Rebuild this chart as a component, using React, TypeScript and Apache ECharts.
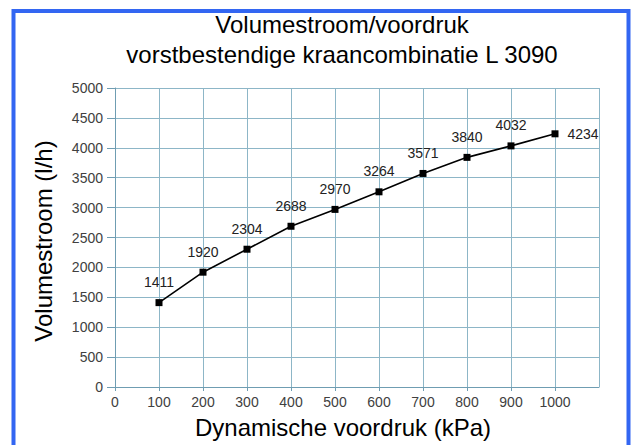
import React, { useEffect, useRef } from "react";
import * as echarts from "echarts";

const titleLines = ["Volumestroom/voordruk", "vorstbestendige kraancombinatie L 3090"];
const xAxisName = "Dynamische voordruk (kPa)";
const yAxisName = "Volumestroom (l/h)";
const pressure = [100, 200, 300, 400, 500, 600, 700, 800, 900, 1000];
const flow = [1411, 1920, 2304, 2688, 2970, 3264, 3571, 3840, 4032, 4234];
const xRange = { min: 0, max: 1100, interval: 100 };
const yRange = { min: 0, max: 5000, interval: 500 };

const FONT = "'Liberation Sans', Arial, Helvetica, sans-serif";
const GRID_COLOR = "#8db6c7";
const AXIS_COLOR = "#6f9db2";

export default function App() {
  const ref = useRef<HTMLDivElement>(null);
  useEffect(() => {
    if (!ref.current) return;
    const chart = echarts.init(ref.current, undefined, { renderer: "svg" });
    const last = pressure.length - 1;
    const data = pressure.map((p, i) =>
      i === last
        ? { value: [p, flow[i]], label: { position: "right", distance: 9 } }
        : { value: [p, flow[i]] }
    );
    chart.setOption({
      animation: false,
      backgroundColor: "#ffffff",
      textStyle: { fontFamily: FONT },
      grid: { left: 115, top: 88, width: 484, height: 299, containLabel: false },
      xAxis: {
        type: "value",
        min: xRange.min,
        max: xRange.max,
        interval: xRange.interval,
        axisLine: { show: true, lineStyle: { color: AXIS_COLOR, width: 1 } },
        axisTick: { show: true, length: 4, lineStyle: { color: AXIS_COLOR } },
        axisLabel: {
          margin: 8,
          color: "#404040",
          fontSize: 14,
          fontFamily: FONT,
          showMaxLabel: false,
          formatter: (v: number) => String(v),
        },
        splitLine: { show: true, lineStyle: { color: GRID_COLOR, width: 1 } },
      },
      yAxis: {
        type: "value",
        min: yRange.min,
        max: yRange.max,
        interval: yRange.interval,
        axisLine: { show: true, lineStyle: { color: AXIS_COLOR, width: 1 } },
        axisTick: { show: true, length: 8, lineStyle: { color: AXIS_COLOR } },
        axisLabel: {
          margin: 12,
          color: "#404040",
          fontSize: 14,
          fontFamily: FONT,
          formatter: (v: number) => String(v),
        },
        splitLine: { show: true, lineStyle: { color: GRID_COLOR, width: 1 } },
      },
      series: [
        {
          type: "line",
          data,
          symbol: "rect",
          symbolSize: 7,
          itemStyle: { color: "#000000" },
          lineStyle: { color: "#000000", width: 1.6 },
          label: {
            show: true,
            position: "top",
            distance: 10,
            color: "#222222",
            fontSize: 14,
            fontFamily: FONT,
            formatter: (p: any) => String(p.value[1]),
          },
        },
      ],
      graphic: [
        {
          type: "rect",
          shape: { x: 13.5, y: 11, width: 615, height: 460 },
          style: { fill: "none", stroke: "#3366f2", lineWidth: 4 },
          silent: true,
          z: 100,
        },
        {
          type: "text",
          x: 342,
          y: 24,
          style: {
            text: titleLines[0],
            textAlign: "center",
            textVerticalAlign: "middle",
            font: `24px ${FONT}`,
            fill: "#000000",
          },
        },
        {
          type: "text",
          x: 342,
          y: 54,
          style: {
            text: titleLines[1],
            textAlign: "center",
            textVerticalAlign: "middle",
            font: `24px ${FONT}`,
            fill: "#000000",
          },
        },
        {
          type: "text",
          x: 343,
          y: 427,
          style: {
            text: xAxisName,
            textAlign: "center",
            textVerticalAlign: "middle",
            font: `24px ${FONT}`,
            fill: "#000000",
          },
        },
        {
          type: "text",
          x: 43,
          y: 241,
          rotation: Math.PI / 2,
          style: {
            text: yAxisName,
            textAlign: "center",
            textVerticalAlign: "middle",
            font: `24px ${FONT}`,
            fill: "#000000",
          },
        },
      ],
    });
    return () => chart.dispose();
  }, []);
  return (
    <div
      ref={ref}
      style={{ position: "fixed", left: 0, top: 0, width: 635, height: 445, background: "#fff" }}
    />
  );
}
